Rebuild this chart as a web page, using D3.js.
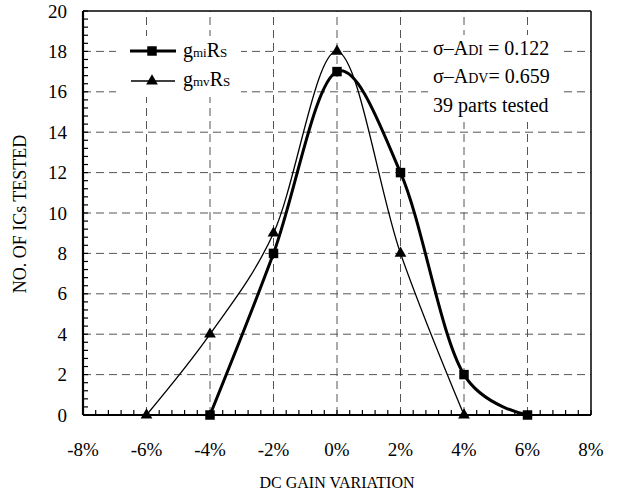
<!DOCTYPE html>
<html>
<head>
<meta charset="utf-8">
<script src="https://cdn.jsdelivr.net/npm/d3@7"></script>
<style>
  body { margin: 0; background: #fff; }
  svg text { font-family: 'Liberation Serif', 'Times New Roman', Times, serif; }
</style>
</head>
<body>
<div id="chart"></div>
<script>
// data
const xTicks = [-8, -6, -4, -2, 0, 2, 4, 6, 8];
const yTicks = [0, 2, 4, 6, 8, 10, 12, 14, 16, 18, 20];
const gmiX = [-4, -2, 0, 2, 4, 6];
const gmiY = [0, 8, 17, 12, 2, 0];
const gmvX = [-6, -4, -2, 0, 2, 4];
const gmvY = [0, 4, 9, 18, 8, 0];

const W = 623, H = 497;
const margin = { top: 11, right: 32, bottom: 82, left: 83 };
const width = W - margin.left - margin.right,
    height = H - margin.top - margin.bottom;

const svg = d3.select('#chart')
    .append('svg')
    .attr('width', W)
    .attr('height', H)
    .attr('fill', '#000');

const x = d3.scaleLinear().domain([-8, 8]).range([margin.left, margin.left + width]);
const y = d3.scaleLinear().domain([0, 20]).range([margin.top + height, margin.top]);

// grid
const grid = svg.append('g')
    .attr('stroke', '#555')
    .attr('stroke-width', 1)
    .attr('stroke-dasharray', '8,5');

grid.selectAll('line.h')
    .data(yTicks.filter(d => d > 0 && d < 20))
    .enter().append('line')
    .attr('class', 'h')
    .attr('x1', x(-8)).attr('x2', x(8))
    .attr('y1', d => y(d)).attr('y2', d => y(d));

grid.selectAll('line.v')
    .data(xTicks.filter(d => d > -8 && d < 8))
    .enter().append('line')
    .attr('class', 'v')
    .attr('x1', d => x(d)).attr('x2', d => x(d))
    .attr('y1', y(0)).attr('y2', y(20));

// white boxes behind legend and notes
svg.append('rect').attr('x', 116).attr('y', 36).attr('width', 125).attr('height', 61).attr('fill', '#fff');
svg.append('rect').attr('x', 428).attr('y', 35).attr('width', 134).attr('height', 87).attr('fill', '#fff');

// minor ticks, pointing inward
const minorX = d3.range(-8, 8.001, 0.4);
const minorY = d3.range(0, 20.001, 0.4);
svg.append('g').selectAll('line')
    .data(minorX)
    .enter().append('line')
    .attr('x1', d => x(d)).attr('x2', d => x(d))
    .attr('y1', y(0)).attr('y2', y(0) - 5)
    .attr('stroke', '#000').attr('stroke-width', 1.2);
svg.append('g').selectAll('line')
    .data(minorY)
    .enter().append('line')
    .attr('x1', x(-8)).attr('x2', x(-8) + 5)
    .attr('y1', d => y(d)).attr('y2', d => y(d))
    .attr('stroke', '#000').attr('stroke-width', 1.2);

// frame
svg.append('line').attr('x1', x(-8)).attr('x2', x(8)).attr('y1', y(20)).attr('y2', y(20))
    .attr('stroke', '#000').attr('stroke-width', 1.5);
svg.append('line').attr('x1', x(8)).attr('x2', x(8)).attr('y1', y(0)).attr('y2', y(20))
    .attr('stroke', '#000').attr('stroke-width', 1.5);
svg.append('line').attr('x1', x(-8)).attr('x2', x(8)).attr('y1', y(0)).attr('y2', y(0))
    .attr('stroke', '#000').attr('stroke-width', 2.2);
svg.append('line').attr('x1', x(-8)).attr('x2', x(-8)).attr('y1', y(0)).attr('y2', y(20))
    .attr('stroke', '#000').attr('stroke-width', 2.2);

// tick labels
svg.append('g').selectAll('text')
    .data(xTicks)
    .enter().append('text')
    .attr('x', d => x(d))
    .attr('y', 456)
    .attr('text-anchor', 'middle')
    .attr('font-size', 19)
    .text(d => d + '%');

svg.append('g').selectAll('text')
    .data(yTicks)
    .enter().append('text')
    .attr('x', 67)
    .attr('y', d => y(d) + 6.5)
    .attr('text-anchor', 'end')
    .attr('font-size', 19)
    .text(d => d);

// axis titles
svg.append('text')
    .attr('x', x(0)).attr('y', 488)
    .attr('text-anchor', 'middle')
    .attr('font-size', 16)
    .text('DC GAIN VARIATION');

svg.append('text')
    .attr('transform', 'translate(26,' + (y(10) + 1) + ') rotate(-90)')
    .attr('text-anchor', 'middle')
    .attr('font-size', 18)
    .text('NO. OF ICs TESTED');

// series
const line = d3.line()
    .x(d => x(d[0]))
    .y(d => y(d[1]))
    .curve(d3.curveCatmullRom.alpha(0.2));

const gmi = gmiX.map((v, i) => [v, gmiY[i]]);
const gmv = gmvX.map((v, i) => [v, gmvY[i]]);

svg.append('path')
    .datum(gmv)
    .attr('d', line)
    .attr('fill', 'none')
    .attr('stroke', '#000')
    .attr('stroke-width', 1.3);

svg.append('path')
    .datum(gmi)
    .attr('d', line)
    .attr('fill', 'none')
    .attr('stroke', '#000')
    .attr('stroke-width', 3);

const tri = d3.symbol(d3.symbolTriangle, 60);
const sq = d3.symbol(d3.symbolSquare, 90);

svg.append('g').selectAll('path')
    .data(gmv)
    .enter().append('path')
    .attr('d', tri)
    .attr('transform', d => 'translate(' + x(d[0]) + ',' + y(d[1]) + ')')
    .attr('fill', '#000');

svg.append('g').selectAll('path')
    .data(gmi)
    .enter().append('path')
    .attr('d', sq)
    .attr('transform', d => 'translate(' + x(d[0]) + ',' + y(d[1]) + ')')
    .attr('fill', '#000');

// legend
const leg = svg.append('g');
leg.append('line').attr('x1', 130).attr('x2', 176).attr('y1', 51).attr('y2', 51)
    .attr('stroke', '#000').attr('stroke-width', 3);
leg.append('path').attr('d', sq).attr('transform', 'translate(152,51)');
leg.append('line').attr('x1', 131).attr('x2', 175).attr('y1', 81).attr('y2', 81)
    .attr('stroke', '#000').attr('stroke-width', 1.3);
leg.append('path').attr('d', tri).attr('transform', 'translate(152,81)');

const legText = [['g', 'mi', 'R', 'S', 57], ['g', 'mv', 'R', 'S', 86]];
legText.forEach(r => {
    const t = leg.append('text').attr('x', 183).attr('y', r[4]).attr('font-size', 20);
    t.append('tspan').text(r[0]);
    t.append('tspan').attr('font-size', 13).text(r[1]);
    t.append('tspan').text(r[2]);
    t.append('tspan').attr('font-size', 13).text(r[3]);
});

// notes
const notes = svg.append('g').attr('font-size', 20);
const n1 = notes.append('text').attr('x', 433).attr('y', 55);
n1.append('tspan').text('σ–A');
n1.append('tspan').attr('font-size', 14).text('DI');
n1.append('tspan').text(' = 0.122');
const n2 = notes.append('text').attr('x', 433).attr('y', 83);
n2.append('tspan').text('σ–A');
n2.append('tspan').attr('font-size', 14).text('DV');
n2.append('tspan').text('= 0.659');
notes.append('text').attr('x', 433).attr('y', 112).text('39 parts tested');
</script>
</body>
</html>
